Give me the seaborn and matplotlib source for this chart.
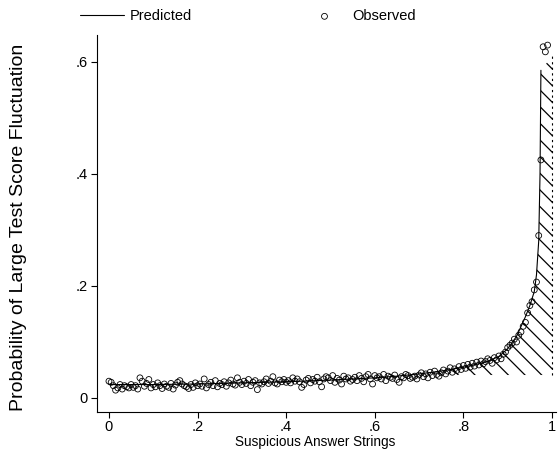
import numpy as np
import pandas as pd
import seaborn as sns
import matplotlib.pyplot as plt

sns.set_style("ticks")
plt.rcParams['font.family'] = ['Liberation Sans', 'DejaVu Sans']
plt.rcParams['hatch.linewidth'] = 0.9
for k in ['text.color', 'axes.labelcolor', 'xtick.color', 'ytick.color']:
    plt.rcParams[k] = 'black'

# observed bins, one every 0.005 on the x axis
obs_y = [
    0.030, 0.028, 0.022, 0.014, 0.018, 0.024, 0.016, 0.022, 0.020, 0.018,
    0.024, 0.019, 0.022, 0.016, 0.036, 0.030, 0.021, 0.026, 0.033, 0.018,
    0.024, 0.020, 0.027, 0.022, 0.017, 0.025, 0.021, 0.019, 0.026, 0.016,
    0.023, 0.028, 0.031, 0.025, 0.022, 0.020, 0.017, 0.024, 0.019, 0.027,
    0.022, 0.025, 0.021, 0.034, 0.018, 0.024, 0.028, 0.022, 0.031, 0.020,
    0.026, 0.024, 0.029, 0.021, 0.027, 0.032, 0.025, 0.023, 0.036, 0.028,
    0.024, 0.030, 0.026, 0.033, 0.022, 0.028, 0.031, 0.015, 0.027, 0.025,
    0.029, 0.034, 0.026, 0.030, 0.038, 0.027, 0.025, 0.032, 0.029, 0.033,
    0.028, 0.031, 0.027, 0.036, 0.030, 0.034, 0.029, 0.019, 0.024, 0.032,
    0.035, 0.027, 0.033, 0.030, 0.037, 0.029, 0.020, 0.034, 0.038, 0.036,
    0.031, 0.040, 0.028, 0.035, 0.032, 0.025, 0.039, 0.034, 0.036, 0.030,
    0.033, 0.037, 0.031, 0.040, 0.035, 0.029, 0.038, 0.042, 0.034, 0.025,
    0.040, 0.036, 0.038, 0.034, 0.042, 0.031, 0.039, 0.037, 0.035, 0.041,
    0.033, 0.028, 0.038, 0.036, 0.042, 0.040, 0.035, 0.037, 0.039, 0.034,
    0.041, 0.045, 0.038, 0.043, 0.036, 0.046, 0.040, 0.048, 0.042, 0.039,
    0.045, 0.050, 0.043, 0.048, 0.054, 0.046, 0.052, 0.049, 0.056, 0.051,
    0.058, 0.053, 0.060, 0.055, 0.062, 0.057, 0.064, 0.059, 0.066, 0.061,
    0.065, 0.070, 0.067, 0.062, 0.072, 0.068, 0.075, 0.070, 0.078, 0.082,
    0.090, 0.094, 0.098, 0.105, 0.100, 0.112, 0.118, 0.128, 0.135, 0.152,
    0.165, 0.172, 0.193, 0.207, 0.290, 0.425, 0.627, 0.618, 0.630,
]
obs_x = np.arange(len(obs_y)) * 0.005

pred_x = [0.0, 0.1, 0.2, 0.3, 0.4, 0.5, 0.6, 0.65, 0.7, 0.75, 0.8, 0.85,
          0.88, 0.9, 0.92, 0.94, 0.95, 0.96, 0.965, 0.97, 0.973, 0.975]
pred_y = [0.024, 0.024, 0.025, 0.027, 0.029, 0.032, 0.036, 0.039, 0.043,
          0.048, 0.055, 0.064, 0.074, 0.088, 0.110, 0.145, 0.165, 0.190,
          0.220, 0.280, 0.400, 0.585]

shade_from = 0.72
shade_base = 0.041
shade_top_right = 0.61

pred = pd.DataFrame({'x': pred_x, 'y': pred_y})
obs = pd.DataFrame({'x': obs_x, 'y': obs_y})

fig, ax = plt.subplots(figsize=(5.59, 4.49), dpi=100)
fig.subplots_adjust(left=0.1735, right=0.9946, bottom=0.0824, top=0.922)

# hatched area between the prediction and the baseline
sx = np.concatenate([[shade_from], pred['x'][pred['x'] > shade_from], [1.0]])
st = np.interp(sx, list(pred_x) + [1.0], list(pred_y) + [shade_top_right])
ax.fill_between(sx, shade_base, st, facecolor='none', edgecolor='black',
                hatch='\\\\', linewidth=0)
ax.plot([1.0, 1.0], [shade_base, shade_top_right], color='black',
        lw=0.8, ls=(0, (2, 3)))

sns.lineplot(data=pred, x='x', y='y', color='black', lw=0.8,
             label='Predicted', ax=ax)
sns.scatterplot(data=obs, x='x', y='y', marker='o', s=18,
                facecolor='none', edgecolor='black', linewidth=0.6,
                label='Observed', ax=ax)

ax.set_xlim(-0.027, 1.009)
ax.set_ylim(-0.025, 0.648)
ax.set_xticks([0, 0.2, 0.4, 0.6, 0.8, 1.0])
ax.set_xticklabels(['0', '.2', '.4', '.6', '.8', '1'])
ax.set_yticks([0, 0.2, 0.4, 0.6])
ax.set_yticklabels(['0', '.2', '.4', '.6'])
ax.tick_params(length=4, width=0.8, labelsize=10.5, pad=3, color='black')
ax.tick_params(axis='x', pad=2)
sns.despine(ax=ax)
for s in ['left', 'bottom']:
    ax.spines[s].set_linewidth(0.8)
    ax.spines[s].set_color('black')

ax.set_xlabel('Suspicious Answer Strings', fontsize=9.8)
ax.set_ylabel('Probability of Large Test Score Fluctuation', fontsize=14)
ax.xaxis.set_label_coords(0.475, -0.062)
ax.yaxis.set_label_coords(-0.152, 0.49)

ax.legend(loc='center left', bbox_to_anchor=(0.143, 0.964),
          bbox_transform=fig.transFigure, ncol=2, frameon=False,
          handlelength=3, handletextpad=0.4, columnspacing=7.6,
          fontsize=10.5, borderaxespad=0, borderpad=0)

plt.savefig("out.png", dpi=100)
